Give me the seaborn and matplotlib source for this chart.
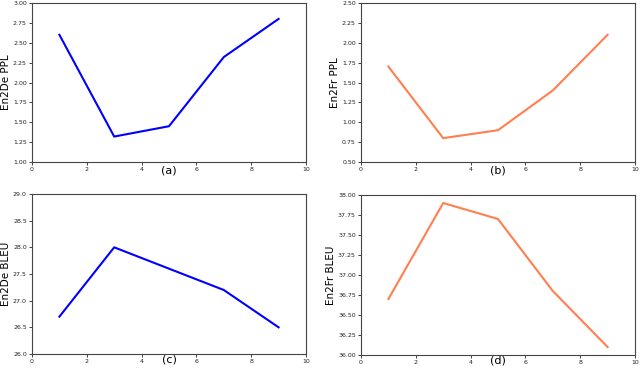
import matplotlib
matplotlib.use("Agg")
import matplotlib.pyplot as plt
import seaborn as sns
import pandas as pd

x = [1, 3, 5, 7, 9]
en2de_ppl = [2.6, 1.32, 1.45, 2.32, 2.8]
en2fr_ppl = [1.7, 0.8, 0.9, 1.4, 2.1]
en2de_bleu = [26.7, 28.0, 27.6, 27.2, 26.5]
en2fr_bleu = [36.7, 37.9, 37.7, 36.8, 36.1]

panels = [
    (en2de_ppl, "En2De PPL", "(a)", "#0000ff", (1.0, 3.0), [1.0, 1.25, 1.5, 1.75, 2.0, 2.25, 2.5, 2.75, 3.0], "{:.2f}"),
    (en2fr_ppl, "En2Fr PPL", "(b)", "#ff7f50", (0.5, 2.5), [0.5, 0.75, 1.0, 1.25, 1.5, 1.75, 2.0, 2.25, 2.5], "{:.2f}"),
    (en2de_bleu, "En2De BLEU", "(c)", "#0000ff", (26.0, 29.0), [26.0, 26.5, 27.0, 27.5, 28.0, 28.5, 29.0], "{:.1f}"),
    (en2fr_bleu, "En2Fr BLEU", "(d)", "#ff7f50", (36.0, 38.0), [36.0, 36.25, 36.5, 36.75, 37.0, 37.25, 37.5, 37.75, 38.0], "{:.2f}"),
]

fig = plt.figure(figsize=(6.4, 3.68), dpi=100)
W, H = 640, 368
rects = [
    (32, 3, 306, 162),
    (361, 3, 635, 162),
    (32, 194, 306, 354),
    (361, 195, 635, 355),
]
pads = [-5, -5, -7, -7]
for (vals, ylab, tag, color, ylim, yticks, fmt), (l, t, r, b), lp in zip(panels, rects, pads):
    ax = fig.add_axes([l / W, 1 - b / H, (r - l) / W, (b - t) / H])
    df = pd.DataFrame({"x": x, "y": vals})
    sns.lineplot(data=df, x="x", y="y", ax=ax, color=color, linewidth=1.5)
    ax.set_xlim(0, 10)
    ax.set_ylim(*ylim)
    ax.set_xticks([0, 2, 4, 6, 8, 10])
    ax.set_yticks(yticks)
    ax.set_yticklabels([fmt.format(v) for v in yticks])
    ax.tick_params(labelsize=4.5, length=2.5, width=0.6, pad=1.2, colors="#222222")
    for s in ax.spines.values():
        s.set_linewidth(0.8)
        s.set_color("#444444")
    ax.set_ylabel(ylab, fontsize=7.5, labelpad=1.5)
    ax.set_xlabel(tag, fontsize=8, labelpad=lp)

fig.savefig("out.png", dpi=100)
